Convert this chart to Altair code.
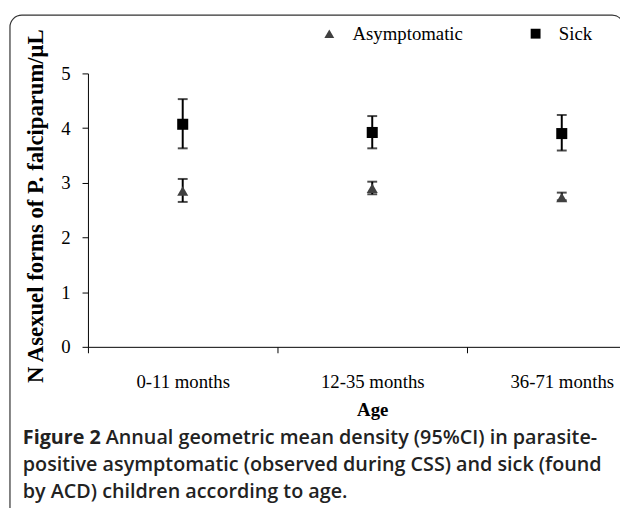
import altair as alt
import pandas as pd

# ---- data ----
ages = ["0-11 months", "12-35 months", "36-71 months"]
groups = ["Asymptomatic", "Sick"]
sick_mean = [4.07, 3.92, 3.90]
sick_low = [3.63, 3.63, 3.59]
sick_high = [4.53, 4.22, 4.24]
asym_mean = [2.85, 2.90, 2.73]
asym_low = [2.65, 2.79, 2.68]
asym_high = [3.07, 3.02, 2.82]

y_title = "N Asexuel forms of P. falciparum/\u03bcL"
x_title = "Age"
caption_bold = "Figure 2"
caption_lines = [
    "Annual geometric mean density (95%CI) in parasite-",
    "positive asymptomatic (observed during CSS) and sick (found",
    "by ACD) children according to age.",
]

rows = []
for i, a in enumerate(ages):
    rows.append({"age": a, "group": "Asymptomatic", "mean": asym_mean[i], "low": asym_low[i], "high": asym_high[i]})
    rows.append({"age": a, "group": "Sick", "mean": sick_mean[i], "low": sick_low[i], "high": sick_high[i]})
df = pd.DataFrame(rows)

SERIF = "Liberation Serif"
SANS = "Open Sans"

x_enc = alt.X(
    "age:N",
    sort=ages,
    scale=alt.Scale(domain=ages, range=[0, 576], paddingInner=0, paddingOuter=0),
    axis=alt.Axis(
        title=x_title, labelAngle=0, tickBand="extent", tickSize=6,
        labelFont=SERIF, labelFontSize=19, labelColor="black", labelPadding=20,
        titleFont=SERIF, titleFontSize=19, titleFontWeight="bold", titleColor="black",
        titlePadding=10, domainColor="black", tickColor="black", grid=False,
    ),
)
y_scale = alt.Scale(domain=[0, 5], nice=False, zero=True)
y_axis = alt.Axis(
    title=y_title, values=[0, 1, 2, 3, 4, 5], tickSize=6, grid=False,
    labelFont=SERIF, labelFontSize=19, labelColor="black", labelPadding=12,
    titleFont=SERIF, titleFontSize=23, titleFontWeight="bold", titleColor="black",
    titlePadding=14, titleY=134, domainColor="black", tickColor="black",
)

base = alt.Chart(df)

bars = base.mark_rule(color="black", strokeWidth=2).encode(
    x=x_enc, y=alt.Y("low:Q", scale=y_scale, axis=y_axis), y2="high:Q"
)
cap_low = base.mark_tick(color="black", thickness=2, size=10).encode(
    x=alt.X("age:N", sort=ages), y=alt.Y("low:Q")
)
cap_high = base.mark_tick(color="black", thickness=2, size=10).encode(
    x=alt.X("age:N", sort=ages), y=alt.Y("high:Q")
)
points = base.mark_point(filled=True, size=125, opacity=1).encode(
    x=alt.X("age:N", sort=ages),
    y=alt.Y("mean:Q"),
    color=alt.Color(
        "group:N",
        scale=alt.Scale(domain=groups, range=["#404040", "#000000"]),
        legend=alt.Legend(
            orient="none", legendX=235, legendY=-50, direction="horizontal",
            title=None, labelFont=SERIF, labelFontSize=19, labelColor="black",
            symbolSize=100, labelOffset=14, columnPadding=64, symbolStrokeWidth=0,
            padding=0,
        ),
    ),
    shape=alt.Shape(
        "group:N",
        scale=alt.Scale(domain=groups, range=["triangle-up", "square"]),
        legend=None,
    ),
)

one = pd.DataFrame({"k": [0]})
frame = alt.Chart(one).mark_rect(
    fill=None, filled=False, stroke="#333333", strokeWidth=1.2, cornerRadius=12
).encode(
    x=alt.value(-79), x2=alt.value(543), y=alt.value(-59), y2=alt.value(700)
)

cap_x = -66
FS = 20
cap1a = alt.Chart(one).mark_text(
    font=SANS, fontSize=FS, fontWeight="bold", color="#222222", align="left", baseline="alphabetic"
).encode(x=alt.value(cap_x), y=alt.value(375), text=alt.value(caption_bold))
cap1b = alt.Chart(one).mark_text(
    font=SANS, fontSize=FS, fontWeight=600, color="#222222", align="left", baseline="alphabetic"
).encode(x=alt.value(cap_x + 84), y=alt.value(375), text=alt.value(caption_lines[0]))
cap2 = alt.Chart(one).mark_text(
    font=SANS, fontSize=FS, fontWeight=600, color="#222222", align="left", baseline="alphabetic"
).encode(x=alt.value(cap_x), y=alt.value(402.5), text=alt.value(caption_lines[1]))
cap3 = alt.Chart(one).mark_text(
    font=SANS, fontSize=FS, fontWeight=600, color="#222222", align="left", baseline="alphabetic"
).encode(x=alt.value(cap_x), y=alt.value(430), text=alt.value(caption_lines[2]))

chart = alt.layer(
    frame, bars, cap_low, cap_high, points, cap1a, cap1b, cap2, cap3
).properties(
    width=539, height=277,
    autosize=alt.AutoSizeParams(type="none"),
    padding={"left": 81, "top": 63, "right": 0, "bottom": 160},
    background="white",
).configure_view(stroke=None)

chart.save("out.html", embed_options={"renderer": "svg", "actions": False})
